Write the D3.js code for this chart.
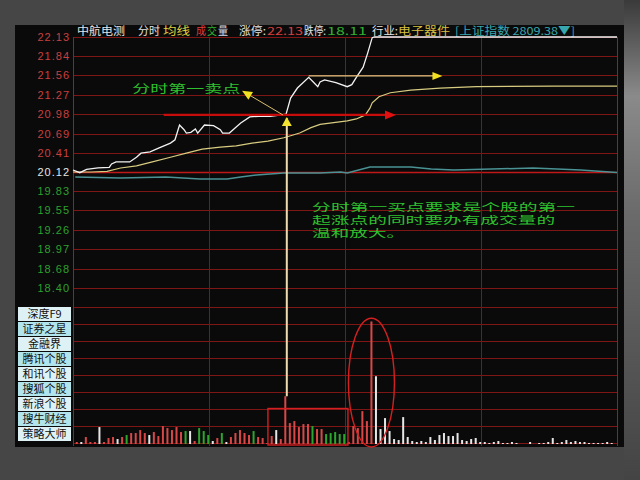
<!DOCTYPE html>
<html><head><meta charset="utf-8">
<script src="https://cdn.jsdelivr.net/npm/d3@7"></script>
<style>
body{margin:0;background:#444;overflow:hidden}
svg{display:block}
text{font-family:"Noto Sans CJK SC","Liberation Sans",sans-serif}
</style>
</head><body>
<svg id="c" width="640" height="480"></svg>
<script>
// ---------- data ----------
const priceTicks = ["22.13","21.84","21.56","21.27","20.98","20.69","20.41","20.12","19.83","19.55","19.26","18.97","18.68","18.40"];
const prevClose = 20.12;
const limitUp = 22.13, limitDown = 18.11;

const priceMinutes = [0,3,6,11,16,17,19,25,28,30,34,38,43,45,47,49,50,52,54,55,58,62,65,66,69,71,74,78,82,87,92,94,96,99,104,106,108,109,111,116,121,123,125,128,130,132,133,240];
const priceValues  = [20.15,20.11,20.16,20.18,20.19,20.24,20.27,20.27,20.34,20.40,20.42,20.48,20.55,20.60,20.82,20.75,20.70,20.71,20.76,20.70,20.82,20.81,20.75,20.70,20.70,20.76,20.85,20.94,20.95,20.95,20.97,20.98,21.22,21.37,21.53,21.46,21.39,21.46,21.49,21.45,21.39,21.42,21.53,21.68,21.89,22.12,22.13,22.13];

const avgMinutes = [0,8,15,21,28,35,43,50,57,65,72,79,86,93,96,100,105,109,121,125,129,131,132,135,140,149,162,178,212,240];
const avgValues  = [20.12,20.12,20.13,20.18,20.21,20.27,20.34,20.40,20.46,20.49,20.51,20.55,20.58,20.63,20.66,20.70,20.78,20.83,20.88,20.91,20.97,21.07,21.15,21.24,21.30,21.34,21.37,21.39,21.40,21.40];

const indexPrevClose = 2810.6;
const indexMinutes = [1,21,41,56,68,74,81,93,109,118,121,131,149,158,168,203,224,240];
const indexValues  = [2800.2,2798.1,2800.2,2796.0,2796.0,2800.2,2804.4,2808.5,2808.5,2810.6,2808.5,2821.0,2821.0,2816.8,2814.8,2818.9,2814.8,2809.4];

const volumes = [16,16,56,16,16,136,16,48,56,40,56,72,88,88,112,88,72,96,64,144,
 128,112,136,96,104,104,24,128,104,72,24,48,88,16,56,88,112,88,72,104,
 56,48,8,64,112,40,384,168,184,136,160,160,144,120,120,80,88,96,80,80,
 16,144,128,264,184,984,544,120,208,104,40,32,216,56,24,16,24,16,56,32,
 72,88,64,64,88,32,24,40,48,16,16,8,16,24,8,8,16,8,0,0,
 16,0,8,8,16,48,8,16,32,16,24,16,16,8,8,8,8,16,8,0];
const volDirs = ["u","f","u","u","u","f","u","u","u","f","u","d","u","u","u","u","f","u","u","u",
 "u","u","u","u","d","f","u","d","d","d","f","u","d","f","u","u","u","u","u","d",
 "u","u","u","u","f","u","u","u","u","u","u","u","d","u","u","d","d","d","d","d",
 "u","u","u","u","u","u","f","f","f","f","f","f","f","f","f","f","f","f","f","f",
 "f","f","f","f","f","f","f","f","f","f","f","f","f","f","f","f","f","f","f","f",
 "f","f","f","f","f","f","f","f","f","f","f","f","f","f","f","f","f","f","f","f"];

const sideButtons = ["深度F9","证券之星","金融界","腾讯个股","和讯个股","搜狐个股","新浪个股","搜牛财经","策略大师"];

const sellLabel = "分时第一卖点";
const noteLines = ["分时第一买点要求是个股的第一","起涨点的同时要办有成交量的","温和放大。"];

// ---------- setup ----------
const svg = d3.select("#c");
const defs = svg.append("defs");
const g1 = defs.append("linearGradient").attr("id","rg").attr("x1",0).attr("y1",0).attr("x2",0).attr("y2",1);
g1.append("stop").attr("offset","0%").attr("stop-color","#3a3a3a");
g1.append("stop").attr("offset","20%").attr("stop-color","#8a8a8a");
g1.append("stop").attr("offset","45%").attr("stop-color","#6a6a6a");
g1.append("stop").attr("offset","100%").attr("stop-color","#444");

svg.append("rect").attr("width",640).attr("height",480).attr("fill","#464646");
svg.append("rect").attr("x",624).attr("y",0).attr("width",16).attr("height",480).attr("fill","url(#rg)");
svg.append("rect").attr("x",15).attr("y",25).attr("width",609).attr("height",422).attr("fill","#0a0a0a");

const x = d3.scaleLinear().domain([0,240]).range([73,617]);
const y = d3.scaleLinear().domain([limitDown,limitUp]).range([307,37]);
const yv = d3.scaleLinear().domain([0,1100]).range([444,307]);
const xb = d3.scaleBand().domain(d3.range(volumes.length)).range([74.5,618.5]);
const bx = i => xb(i) + xb.bandwidth()/2;

// ---------- grid ----------
const grid = svg.append("g");
const gridVals = priceTicks.map(Number).concat([limitDown]);
grid.selectAll("line.h").data(gridVals).join("line")
  .attr("x1",73).attr("x2",617)
  .attr("y1",d=>Math.round(y(d))+0.5).attr("y2",d=>Math.round(y(d))+0.5)
  .attr("stroke",d=>Math.abs(d-prevClose)<0.001?"#c01818":"#7e1616")
  .attr("stroke-width",d=>Math.abs(d-prevClose)<0.001?1.6:1);
const volGrid = d3.range(9).map(k=>307+k*17);
grid.selectAll("line.v").data(volGrid).join("line")
  .attr("x1",73).attr("x2",617).attr("y1",d=>d+0.5).attr("y2",d=>d+0.5)
  .attr("stroke","#7e1616");
grid.selectAll("line.t").data([0,60,120,180,240]).join("line")
  .attr("x1",d=>Math.round(x(d))+0.5).attr("x2",d=>Math.round(x(d))+0.5)
  .attr("y1",37).attr("y2",446)
  .attr("stroke",d=>(d===0||d===240)?"#a01c1c":"#7e1616");

// ---------- axis labels ----------
svg.append("g").selectAll("text").data(priceTicks).join("text")
  .attr("x",70).attr("y",d=>y(+d)+4)
  .attr("text-anchor","end")
  .style("font-family","'Liberation Sans',Arial,sans-serif")
  .style("font-size","11px").style("letter-spacing","1px")
  .attr("fill",d=>+d>prevClose+0.001?"#c84040":(+d<prevClose-0.001?"#2ea02e":"#e6e6e6"))
  .text(d=>d);

// ---------- header ----------
const header = [
  {t:"中航电测",x:77,w:48,c:"#e4e4e4"},
  {t:"分时",x:138,w:22,c:"#e4e4e4"},
  {t:"均线",x:163,w:27,c:"#e0d040"},
  {t:"成",x:196,w:10,c:"#e03c3c"},
  {t:"交",x:207,w:10,c:"#30b030"},
  {t:"量",x:218,w:10,c:"#d8d8e8"},
  {t:"涨停:",x:239,w:27,c:"#e4e4e4"},
  {t:"22.13",x:267,w:36,c:"#d84040"},
  {t:"跌停:",x:304,w:22,c:"#e4e4e4"},
  {t:"18.11",x:327,w:40,c:"#30b030"},
  {t:"行业:",x:372,w:26,c:"#e4e4e4"},
  {t:"电子器件",x:398,w:52,c:"#d8c040"},
  {t:"[上证指数 2809.38▼]",x:455,w:120,c:"#38a8b0"}
];
svg.append("g").selectAll("text").data(header).join("text")
  .attr("x",d=>d.x).attr("y",35)
  .attr("textLength",d=>d.w).attr("lengthAdjust","spacingAndGlyphs")
  .style("font-size","11px").attr("fill",d=>d.c).text(d=>d.t);

// ---------- side buttons ----------
const sb = svg.append("g").selectAll("g").data(sideButtons).join("g")
  .attr("transform",(d,i)=>`translate(18,${307+i*15})`);
sb.append("rect").attr("width",53).attr("height",14)
  .attr("fill",(d,i)=>i%2===0?"#def2f6":"#b2e4ec");
sb.append("text").attr("x",26.5).attr("y",11).attr("text-anchor","middle")
  .style("font-size","11px").attr("fill","#101010").text(d=>d);

// ---------- lines ----------
const idxY = v => y(prevClose * v / indexPrevClose);
svg.append("path")
  .attr("d",d3.line().x(d=>x(d[0])).y(d=>idxY(d[1]))(d3.zip(indexMinutes,indexValues)))
  .attr("fill","none").attr("stroke","#4a9294").attr("stroke-width",1.5);
svg.append("path")
  .attr("d",d3.line().x(d=>x(d[0])).y(d=>y(d[1]))(d3.zip(avgMinutes,avgValues)))
  .attr("fill","none").attr("stroke","#d8cc80").attr("stroke-width",1.2);
svg.append("path")
  .attr("d",d3.line().x(d=>x(d[0])).y(d=>y(d[1]))(d3.zip(priceMinutes,priceValues)))
  .attr("fill","none").attr("stroke","#f2f2f2").attr("stroke-width",1.3);

// ---------- volume ----------
const volColor = {u:"#d84848",d:"#2ea62e",f:"#e6e6e6"};
svg.append("g").selectAll("rect").data(volumes).join("rect")
  .attr("x",(d,i)=>bx(i)-1).attr("width",2)
  .attr("y",d=>yv(d)).attr("height",d=>yv(0)-yv(d))
  .attr("fill",(d,i)=>volColor[volDirs[i]]);

// ---------- annotations ----------
const ann = svg.append("g");
function head(tx,ty,ang,len,half,fill){
  const bxp = tx - len*Math.cos(ang), byp = ty - len*Math.sin(ang);
  const px = -Math.sin(ang)*half, py = Math.cos(ang)*half;
  ann.append("path").attr("d",`M${tx},${ty}L${bxp+px},${byp+py}L${bxp-px},${byp-py}Z`).attr("fill",fill);
}
// red horizontal arrow
const ry = y(20.97);
ann.append("line").attr("x1",x(40)).attr("x2",x(138)).attr("y1",ry).attr("y2",ry)
  .attr("stroke","#c80c0c").attr("stroke-width",2.4);
head(x(142.5),ry,0,11,4.5,"#e01010");
// yellow horizontal arrow
const yy = y(21.55);
ann.append("line").attr("x1",x(104)).attr("x2",x(159)).attr("y1",yy).attr("y2",yy)
  .attr("stroke","#e0c880").attr("stroke-width",1.2);
head(x(163),yy,0,10,4,"#f0e020");
// diagonal arrow to sell label
const sx1 = x(92.6), sy1 = y(20.97), sx2 = x(74.6), sy2 = y(21.33);
const ang = Math.atan2(sy2-sy1, sx2-sx1);
ann.append("line").attr("x1",sx1).attr("y1",sy1).attr("x2",sx2-7*Math.cos(ang)).attr("y2",sy2-7*Math.sin(ang))
  .attr("stroke","#d8c070").attr("stroke-width",1);
head(sx2,sy2,ang,10,4.5,"#f0e020");
// vertical up arrow from volume bar to price
const ux = bx(46)+1.5;
ann.append("line").attr("x1",ux).attr("x2",ux).attr("y1",yv(volumes[46])).attr("y2",y(20.92))
  .attr("stroke","#eedcb0").attr("stroke-width",2);
head(ux,y(20.94),-Math.PI/2,9,5,"#f4e430");
// rectangle & ellipse on volume
ann.append("rect").attr("x",x(86)).attr("y",yv(285)).attr("width",x(121.3)-x(86)).attr("height",yv(0)-yv(285)+1)
  .attr("fill","none").attr("stroke","#d42020").attr("stroke-width",1.4);
ann.append("ellipse").attr("cx",bx(65)).attr("cy",(yv(1010)+447)/2).attr("rx",23).attr("ry",(447-yv(1010))/2)
  .attr("fill","none").attr("stroke","#d42020").attr("stroke-width",1.4);
// texts
ann.append("text").attr("x",x(26.2)).attr("y",y(21.30))
  .attr("textLength",108).attr("lengthAdjust","spacingAndGlyphs")
  .style("font-size","11.5px").attr("fill","#2ec02e").text(sellLabel);
const noteW = [263,243,93];
ann.selectAll("text.note").data(noteLines).join("text")
  .attr("x",x(105.5)).attr("y",(d,i)=>y(19.54)+i*12.8)
  .attr("textLength",(d,i)=>noteW[i]).attr("lengthAdjust","spacingAndGlyphs")
  .style("font-size","10.5px").attr("fill","#2ec02e").text(d=>d);
</script>
</body></html>
